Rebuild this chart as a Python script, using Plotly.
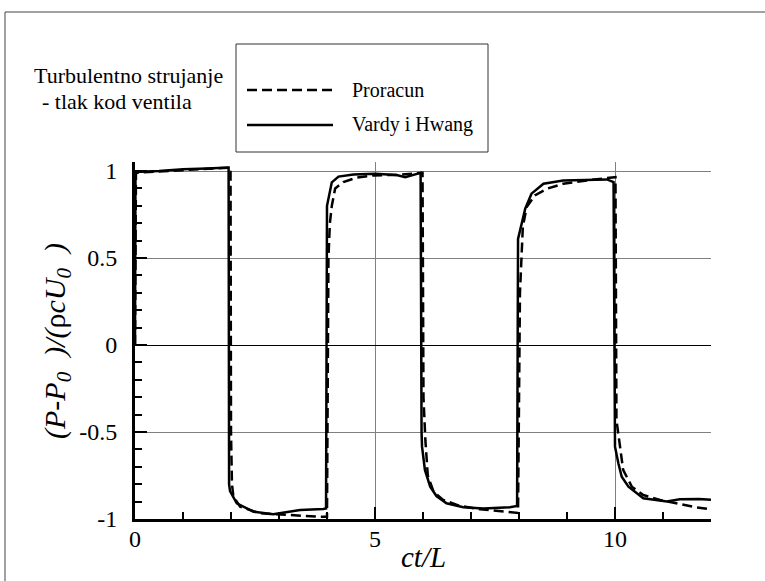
import plotly.graph_objects as go

# ---- data ----
proracun_t = [0.0, 0.02, 1.0, 1.99, 2.0, 2.02, 2.05, 2.19, 2.6, 2.95, 3.37, 3.85, 4.0,
              4.03, 4.06, 4.1, 4.17, 4.34, 4.62, 4.97, 5.5, 5.9, 5.99,
              6.01, 6.05, 6.1, 6.22, 6.42, 6.77, 7.19, 7.67, 7.98,
              8.02, 8.08, 8.16, 8.33, 8.58, 8.92, 9.41, 9.83, 10.01,
              10.03, 10.1, 10.17, 10.35, 10.59, 10.94, 11.35, 11.7, 12.0]
proracun_p = [0.0, 0.99, 1.005, 1.02, -0.5, -0.8, -0.87, -0.929, -0.967, -0.973, -0.983, -0.987, -0.987,
              0.5, 0.7, 0.8, 0.9, 0.937, 0.962, 0.975, 0.978, 0.99, 0.99,
              -0.3, -0.55, -0.75, -0.843, -0.89, -0.925, -0.944, -0.958, -0.965,
              0.3, 0.68, 0.793, 0.86, 0.898, 0.927, 0.946, 0.962, 0.965,
              -0.43, -0.584, -0.718, -0.814, -0.862, -0.891, -0.914, -0.933, -0.944]

vardy_t = [0.0, 0.01, 0.5, 1.0, 1.5, 1.95, 1.96, 1.98, 2.12, 2.47, 2.88, 3.16, 3.44, 3.92, 3.98,
           4.0, 4.05, 4.1, 4.24, 4.55, 5.0, 5.45, 5.63, 5.8, 5.95,
           5.97, 5.98, 6.04, 6.15, 6.28, 6.49, 6.84, 7.26, 7.81, 7.96,
           7.98, 8.06, 8.13, 8.26, 8.51, 8.92, 9.41, 9.83, 9.97,
           10.0, 10.07, 10.14, 10.28, 10.59, 11.08, 11.35, 11.75, 12.0]
vardy_p = [0.0, 0.995, 1.0, 1.01, 1.015, 1.02, -0.8, -0.84, -0.91, -0.958, -0.973, -0.962, -0.948, -0.943, -0.94,
           0.80, 0.88, 0.935, 0.968, 0.98, 0.984, 0.977, 0.965, 0.98, 0.99,
           -0.5, -0.584, -0.718, -0.814, -0.868, -0.91, -0.933, -0.939, -0.933, -0.925,
           0.61, 0.707, 0.784, 0.87, 0.927, 0.946, 0.95, 0.952, 0.937,
           -0.584, -0.68, -0.757, -0.814, -0.881, -0.9, -0.887, -0.885, -0.89]

y_ticks = [-1, -0.5, 0, 0.5, 1]
y_tick_labels = ["-1", "-0.5", "0", "0.5", "1"]
x_ticks = [0, 5, 10]
x_tick_labels = ["0", "5", "10"]
y_minor = [-0.9, -0.8, -0.7, -0.6, -0.4, -0.3, -0.2, -0.1, 0.1, 0.2, 0.3, 0.4, 0.6, 0.7, 0.8, 0.9]
x_minor = [1, 2, 3, 4, 6, 7, 8, 9, 11, 12]

FONT = "Liberation Serif, Times New Roman, Tinos, DejaVu Serif, serif"

fig = go.Figure()
fig.add_trace(go.Scatter(x=proracun_t, y=proracun_p, mode="lines", name="Proracun",
                         line=dict(color="black", width=2.5, dash="10px,5px")))
fig.add_trace(go.Scatter(x=vardy_t, y=vardy_p, mode="lines", name="Vardy i Hwang",
                         line=dict(color="black", width=2.5)))

W, H = 765, 581
L, R, T, B = 135, 54, 162, 62
PW, PH = W - L - R, H - T - B


def px(x):  # page pixel x -> paper
    return (x - L) / PW


def py(y):  # page pixel y -> paper
    return (H - B - y) / PH


shapes = [
    # outer frame
    dict(type="rect", xref="paper", yref="paper", x0=px(5), x1=px(790), y0=py(600), y1=py(12),
         line=dict(color="#444", width=1), fillcolor="rgba(0,0,0,0)", layer="below"),
    # legend box
    dict(type="rect", xref="paper", yref="paper", x0=px(236), x1=px(488), y0=py(152), y1=py(44),
         line=dict(color="#333", width=1)),
    dict(type="line", xref="paper", yref="paper", x0=px(247), x1=px(333), y0=py(90), y1=py(90),
         line=dict(color="black", width=2.5, dash="10px,5px")),
    dict(type="line", xref="paper", yref="paper", x0=px(247), x1=px(333), y0=py(125), y1=py(125),
         line=dict(color="black", width=2.5)),
]

NB = "\u00a0"
annotations = [
    dict(text="Turbulentno strujanje", xref="paper", yref="paper", x=px(32), y=py(76),
         xanchor="left", yanchor="middle", showarrow=False, font=dict(family=FONT, size=22, color="black")),
    dict(text="- tlak kod ventila", xref="paper", yref="paper", x=px(40), y=py(102),
         xanchor="left", yanchor="middle", showarrow=False, font=dict(family=FONT, size=22, color="black")),
    dict(text="Proracun", xref="paper", yref="paper", x=px(350), y=py(90),
         xanchor="left", yanchor="middle", showarrow=False, font=dict(family=FONT, size=20, color="black")),
    dict(text="Vardy i Hwang", xref="paper", yref="paper", x=px(350), y=py(125),
         xanchor="left", yanchor="middle", showarrow=False, font=dict(family=FONT, size=20, color="black")),
    dict(text="<i>ct/L</i>", xref="paper", yref="paper", x=0.5, y=py(557),
         xanchor="center", yanchor="middle", showarrow=False, font=dict(family=FONT, size=29, color="black")),
    dict(text="<i>(P-P<sub>0</sub>" + NB + NB + ")/(</i>ρ<i>cU<sub>0</sub>" + NB + NB + ")</i>",
         xref="paper", yref="paper", x=px(57), y=py(341), textangle=-90,
         xanchor="center", yanchor="middle", showarrow=False, font=dict(family=FONT, size=30, color="black")),
]

fig.update_layout(
    width=W, height=H, autosize=False,
    margin=dict(l=L, r=R, t=T, b=B, pad=0),
    paper_bgcolor="white", plot_bgcolor="white",
    showlegend=False,
    shapes=shapes, annotations=annotations,
    font=dict(family=FONT, size=24, color="black"),
)

fig.update_xaxes(
    range=[0, 12], tickmode="array", tickvals=x_ticks, ticktext=x_tick_labels,
    ticks="inside", ticklen=12, tickwidth=2, tickcolor="black",
    showline=True, linewidth=3, linecolor="black",
    showgrid=True, gridcolor="#808080", gridwidth=1, zeroline=False,
    tickfont=dict(family=FONT, size=24, color="black"), ticklabelstandoff=-4,
    minor=dict(tickvals=x_minor, ticks="inside", ticklen=7, tickwidth=1.5, tickcolor="black", showgrid=False),
)
fig.update_yaxes(
    range=[-1, 1.052], tickmode="array", tickvals=y_ticks, ticktext=y_tick_labels,
    ticks="inside", ticklen=12, tickwidth=2, tickcolor="black",
    showline=True, linewidth=3, linecolor="black",
    showgrid=True, gridcolor="#808080", gridwidth=1,
    zeroline=True, zerolinecolor="black", zerolinewidth=1,
    tickfont=dict(family=FONT, size=24, color="black"), ticklabelstandoff=10,
    minor=dict(tickvals=y_minor, ticks="inside", ticklen=7, tickwidth=1.5, tickcolor="black", showgrid=False),
)

fig.write_html("out.html", config={"displayModeBar": False},
               post_script="document.body.style.margin='0';")
